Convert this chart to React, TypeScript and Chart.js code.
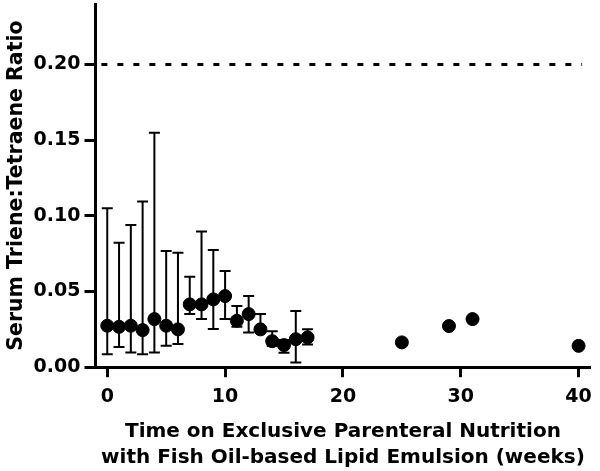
import React, { useEffect, useRef } from "react";
import { Chart, registerables } from "chart.js";

Chart.register(...registerables);

const weeks = [0, 1, 2, 3, 4, 5, 6, 7, 8, 9, 10, 11, 12, 13, 14, 15, 16, 17, 25, 29, 31, 40];
const ratioMean = [0.0274, 0.0267, 0.0274, 0.0245, 0.0318, 0.0274, 0.025, 0.0415, 0.0415, 0.0448, 0.047, 0.0307, 0.0351, 0.025, 0.0172, 0.0146, 0.0185, 0.0197, 0.0164, 0.0272, 0.0318, 0.0141];
const ratioHigh = [0.105, 0.0823, 0.094, 0.1095, 0.155, 0.0768, 0.0757, 0.0598, 0.0896, 0.0775, 0.0636, 0.0404, 0.047, 0.0351, 0.0238, 0.0179, 0.0371, 0.025, null, null, null, null];
const ratioLow = [0.0086, 0.0134, 0.0097, 0.0086, 0.0097, 0.0141, 0.0154, 0.0351, 0.0318, 0.0252, 0.0318, 0.0267, 0.023, 0.023, 0.014, 0.0095, 0.0031, 0.015, null, null, null, null];
const thresholdValue = 0.2;
const thresholdRange = [-0.5, 40.3];
const xTicks = [0, 10, 20, 30, 40];
const yTicks = [0, 0.05, 0.1, 0.15, 0.2];
const xTitle = ["Time on Exclusive Parenteral Nutrition", "with Fish Oil-based Lipid Emulsion (weeks)"];
const yTitle = "Serum Triene:Tetraene Ratio";

const FONT = "'DejaVu Sans', Verdana, sans-serif";

const errorBarPlugin = {
  id: "errorBars",
  beforeDatasetsDraw(chart: any) {
    const { ctx, scales } = chart;
    const xs = scales.x;
    const ys = scales.y;
    ctx.save();
    ctx.strokeStyle = "#000";
    ctx.lineWidth = 2;
    const cap = 5.5;
    weeks.forEach((w, i) => {
      const hi = ratioHigh[i];
      const lo = ratioLow[i];
      if (hi == null || lo == null) return;
      const px = xs.getPixelForValue(w);
      const pHi = ys.getPixelForValue(hi);
      const pLo = ys.getPixelForValue(lo);
      ctx.beginPath();
      ctx.moveTo(px, pHi);
      ctx.lineTo(px, pLo);
      ctx.moveTo(px - cap, pHi);
      ctx.lineTo(px + cap, pHi);
      ctx.moveTo(px - cap, pLo);
      ctx.lineTo(px + cap, pLo);
      ctx.stroke();
    });
    ctx.restore();
  },
};

export default function App() {
  const ref = useRef<HTMLCanvasElement | null>(null);
  useEffect(() => {
    if (!ref.current) return;
    const chart = new Chart(ref.current, {
      type: "scatter",
      data: {
        datasets: [
          {
            label: "threshold",
            data: thresholdRange.map((x) => ({ x, y: thresholdValue })),
            showLine: true,
            borderColor: "#000",
            borderWidth: 3,
            borderDash: [6, 10],
            pointRadius: 0,
          },
          {
            label: "ratio",
            data: weeks.map((w, i) => ({ x: w, y: ratioMean[i] })),
            backgroundColor: "#000",
            borderColor: "#000",
            pointRadius: 6.5,
            pointStyle: "circle",
          },
        ],
      },
      options: {
        animation: false,
        responsive: false,
        maintainAspectRatio: false,
        layout: { autoPadding: false, padding: { left: 3, right: 8, top: 4, bottom: 0 } },
        plugins: {
          legend: { display: false },
          tooltip: { enabled: false },
        },
        scales: {
          x: {
            type: "linear",
            min: -1,
            max: 41,
            afterBuildTicks: (axis: any) => {
              axis.ticks = xTicks.map((v) => ({ value: v }));
            },
            ticks: {
              color: "#000",
              font: { family: FONT, weight: "bold", size: 19 },
              padding: 8,
              maxRotation: 0,
            },
            grid: {
              display: true,
              drawOnChartArea: false,
              drawTicks: true,
              tickLength: 10,
              tickWidth: 3,
              tickColor: "#000",
            },
            border: { display: true, color: "#000", width: 3 },
            title: {
              display: true,
              text: xTitle,
              color: "#000",
              font: { family: FONT, weight: "bold", size: 20, lineHeight: 1.3 },
              padding: { top: 3, bottom: 0 },
            },
          },
          y: {
            type: "linear",
            min: 0,
            max: 0.24,
            afterBuildTicks: (axis: any) => {
              axis.ticks = yTicks.map((v) => ({ value: v }));
            },
            afterFit: (axis: any) => {
              axis.paddingTop = 0;
            },
            ticks: {
              color: "#000",
              font: { family: FONT, weight: "bold", size: 19 },
              padding: 4,
              callback: (v: any) => Number(v).toFixed(2),
            },
            grid: {
              display: true,
              drawOnChartArea: false,
              drawTicks: true,
              tickLength: 11,
              tickWidth: 3,
              tickColor: "#000",
            },
            border: { display: true, color: "#000", width: 3 },
            title: {
              display: true,
              text: yTitle,
              color: "#000",
              font: { family: FONT, weight: "bold", size: 20.5 },
              padding: { top: 1, bottom: 1 },
            },
          },
        },
      },
      plugins: [errorBarPlugin],
    });
    return () => chart.destroy();
  }, []);
  return (
    <div style={{ position: "fixed", left: 0, top: 0, width: 600, height: 471, background: "#fff" }}>
      <canvas ref={ref} width={600} height={471} style={{ width: 600, height: 471, display: "block" }} />
    </div>
  );
}
